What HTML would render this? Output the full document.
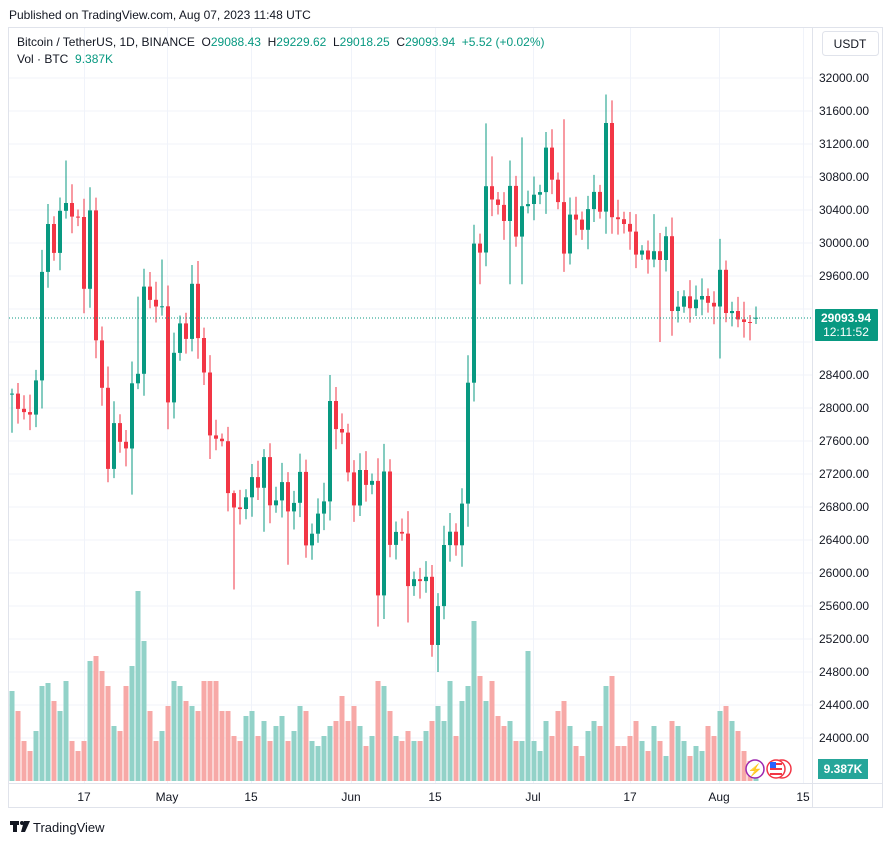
<!DOCTYPE html>
<html><head><meta charset="utf-8"><style>
body{margin:0;background:#fff;font-family:"Liberation Sans",sans-serif;}
svg text{font-family:"Liberation Sans",sans-serif;}
</style></head><body>
<svg id="s" width="894" height="845" xmlns="http://www.w3.org/2000/svg"></svg>
<script>
const C=[[28170,28175],[28175,27990],[27990,27950],[27950,27920],[27920,28335],[28335,29650],[29650,30230],[30230,29880],[29880,30390],[30390,30485],[30485,30320],[30320,30315],
[30315,29445],[29445,30395],[30395,28820],[28820,28245],[28245,27262],[27262,27817],[27817,27590],[27590,27510],[27510,28300],[28300,28415],[28415,29472],[29472,29311],[29311,29230],[29230,29233],
[29233,28068],[28068,28669],[28669,29026],[29026,28838],[28838,29506],[29506,28848],[28848,28430],[28430,27668],[27668,27628],[27628,27598],[27598,26969],[26969,26795],[26795,26775],[26775,26917],
[26917,27162],[27162,27033],[27033,27405],[27405,26821],[26821,26880],[26880,27102],[27102,26747],[26747,26850],[26850,27225],[27225,26334],[26334,26476],[26476,26720],[26720,26868],[26868,28085],[28085,27745],[27745,27702],[27702,27219],
[27219,26819],[26819,27249],[27249,27069],[27069,27116],[27116,25728],[25728,27230],[27230,26340],[26340,26498],[26498,26477],[26477,25841],[25841,25925],[25925,25902],[25902,25954],[25954,25128],
[25128,25599],[25599,26339],[26339,26501],[26501,26336],[26336,26841],[26841,28307],[28307,29993],[29993,29884],[29884,30688],[30688,30527],[30527,30462],[30462,30267],[30267,30692],[30692,30077],[30077,30446],[30446,30472],
[30472,30585],[30585,30617],[30617,31156],[31156,30767],[30767,30496],[30496,29872],[29872,30344],[30344,30284],[30284,30160],[30160,30411],[30411,30620],[30620,30380],[30380,31454],[31454,30312],[30312,30289],[30289,30231],
[30231,30138],[30138,29859],[29859,29909],[29909,29800],[29800,29901],[29901,29794],[29794,30083],[30083,29176],[29176,29228],[29228,29354],[29354,29210],[29210,29314],[29314,29357],[29357,29275],[29275,29230],
[29230,29675],[29675,29151],[29151,29176],[29176,29074],[29074,29042],[29042,29041],[29088,29094]];
const V=[90,70,40,30,50,95,98,80,70,100,40,30,40,120,125,110,95,55,50,95,115,190,140,70,40,50,75,100,95,80,75,70,100,100,100,70,70,45,40,65,
70,45,60,40,55,65,40,50,75,70,40,35,45,55,60,85,60,75,55,35,45,100,95,70,45,40,50,40,40,50,60,75,60,100,45,80,95,160,105,80,100,65,55,60,40,40,130,
40,30,60,45,70,80,55,35,25,50,60,55,95,105,35,35,45,60,40,30,55,40,25,60,55,40,25,35,30,55,45,70,75,60,50,30,20,12];
const HO={9:31000,14:30550,21:29350,25:29800,37:27000,53:28400,79:31450,80:31050,83:31000,85:31280,92:31500,99:31800,107:30350,118:30050,113:29550,124:29230};
const LO={0:27700,16:27100,17:27150,20:26950,37:25800,42:26500,46:26100,61:25350,66:25400,71:24800,78:29500,83:29500,85:29500,92:29650,108:28800,118:28600,123:28820,124:29018};
const Y=p=>78+(32000-p)*0.0825, X=i=>12+i*6;
let s='';
s+='<rect x="8.5" y="27.5" width="874" height="780" fill="#fff" stroke="#e0e3eb"/>';
s+='<line x1="812.5" y1="27" x2="812.5" y2="808" stroke="#e0e3eb"/>';
s+='<line x1="8" y1="783.5" x2="882" y2="783.5" stroke="#e0e3eb"/>';
const xt=[[84,'17'],[167,'May'],[251,'15'],[351,'Jun'],[435,'15'],[533,'Jul'],[630,'17'],[719,'Aug'],[803,'15']];
for(const [x,t] of xt){s+=`<line x1="${x+.5}" y1="28" x2="${x+.5}" y2="783" stroke="#f0f3fa"/>`;s+=`<text x="${x}" y="801" font-size="12" fill="#131722" text-anchor="middle">${t}</text>`;}
for(let p=24000;p<=32000;p+=400){const y=Y(p);s+=`<line x1="9" y1="${y.toFixed(1)}" x2="812" y2="${y.toFixed(1)}" stroke="#f0f3fa"/>`;if(p!=29200&&p!=28800)s+=`<text x="819" y="${(y+4).toFixed(1)}" font-size="12" fill="#131722">${p}.00</text>`;}
s+=`<text x="819" y="775" font-size="12" fill="#131722">0</text>`;
for(let i=0;i<C.length;i++){const up=C[i][1]>=C[i][0];s+=`<rect x="${X(i)-2.5}" y="${781-V[i]}" width="5" height="${V[i]}" fill="${up?'#92d2c8':'#f7a9a7'}"/>`;}
for(let i=0;i<C.length;i++){const [o,c]=C[i];const up=c>=o;const col=up?'#089981':'#f23645';
const b=Math.abs(c-o);const h=HO[i]??Math.max(o,c)+60+((i*37)%7)*25+b*0.1;const l=LO[i]??Math.min(o,c)-60-((i*53)%7)*25-b*0.1;
const x=X(i);s+=`<line x1="${x}" y1="${Y(h).toFixed(1)}" x2="${x}" y2="${Y(l).toFixed(1)}" stroke="${col}" stroke-width="1"/>`;
const yt=Y(Math.max(o,c)),bh=Math.max(1,b*0.0825);s+=`<rect x="${x-2}" y="${yt.toFixed(1)}" width="4" height="${bh.toFixed(1)}" fill="${col}"/>`;}
s+=`<line x1="9" y1="318" x2="812" y2="318" stroke="#089981" stroke-dasharray="1,2"/>`;
s+='<rect x="815" y="309" width="63" height="32" fill="#089981" rx="1"/><text x="846" y="322" font-size="12" font-weight="bold" fill="#fff" text-anchor="middle">29093.94</text><text x="846" y="336" font-size="12" fill="#fff" text-anchor="middle">12:11:52</text>';
s+='<rect x="818" y="759" width="50" height="20" fill="#26a69a"/><text x="843" y="773" font-size="12" font-weight="bold" fill="#fff" text-anchor="middle">9.387K</text>';
s+='<circle cx="755" cy="769" r="9" fill="#fff" stroke="#9c27b0" stroke-width="1.5"/><text x="755" y="774" font-size="12" fill="#9c27b0" text-anchor="middle">⚡</text>';
s+='<circle cx="782" cy="769" r="9" fill="#fff" stroke="#f23645" stroke-width="1.5"/><circle cx="776" cy="769" r="9" fill="#fff" stroke="#f23645" stroke-width="1.5"/><rect x="770" y="763" width="12" height="2" fill="#f23645"/><rect x="770" y="768" width="12" height="2" fill="#f23645"/><rect x="770" y="773" width="12" height="2" fill="#f23645"/><rect x="770" y="762" width="6" height="6" fill="#2962ff"/>';
s+='<text x="9" y="19" font-size="12" fill="#131722">Published on TradingView.com, Aug 07, 2023 11:48 UTC</text>';
s+='<text x="17" y="46" font-size="12" fill="#131722" xml:space="preserve">Bitcoin / TetherUS, 1D, BINANCE  O<tspan fill="#089981">29088.43</tspan>  H<tspan fill="#089981">29229.62</tspan>  L<tspan fill="#089981">29018.25</tspan>  C<tspan fill="#089981">29093.94  +5.52 (+0.02%)</tspan></text>';
s+='<text x="17" y="63" font-size="12" fill="#131722" xml:space="preserve">Vol · BTC  <tspan fill="#089981">9.387K</tspan></text>';
s+='<rect x="822.5" y="31.5" width="56" height="24" rx="3" fill="#fff" stroke="#e0e3eb"/><text x="850" y="48" font-size="12" fill="#131722" text-anchor="middle">USDT</text>';
s+='<text x="33" y="832" font-size="13" fill="#131722">TradingView</text>';
s+='<rect x="10" y="821" width="9" height="4" fill="#131722"/><rect x="13" y="821" width="4" height="11" fill="#131722"/><circle cx="22" cy="823" r="2" fill="#131722"/><path d="M24 821 L30 821 L25 832 L21 832 Z" fill="#131722"/>';
document.getElementById('s').innerHTML=s;
</script>
</body></html>
